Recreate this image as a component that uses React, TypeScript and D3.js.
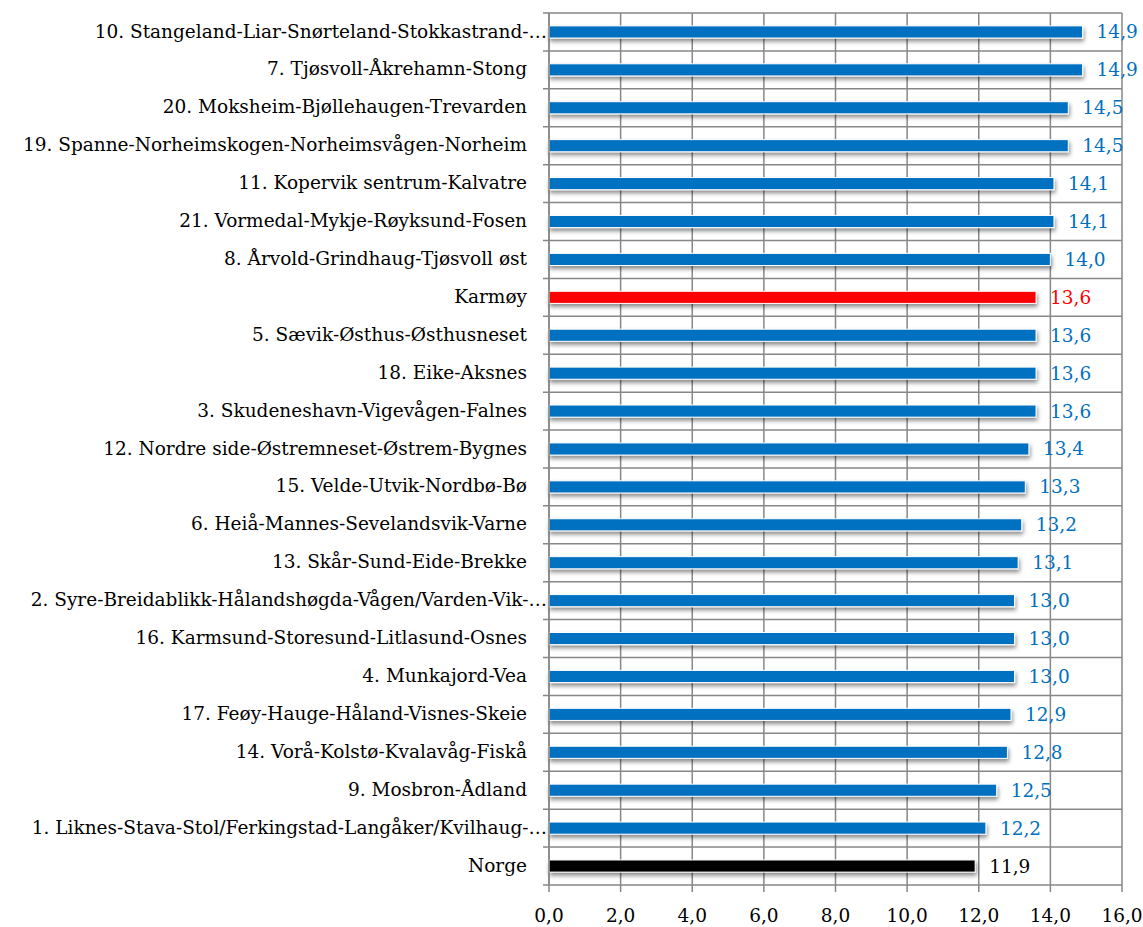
import React from "react";
import * as d3 from "d3";

const categories: string[] = [
  "10. Stangeland-Liar-Snørteland-Stokkastrand-…",
  "7. Tjøsvoll-Åkrehamn-Stong",
  "20. Moksheim-Bjøllehaugen-Trevarden",
  "19. Spanne-Norheimskogen-Norheimsvågen-Norheim",
  "11. Kopervik sentrum-Kalvatre",
  "21. Vormedal-Mykje-Røyksund-Fosen",
  "8. Årvold-Grindhaug-Tjøsvoll øst",
  "Karmøy",
  "5. Sævik-Østhus-Østhusneset",
  "18. Eike-Aksnes",
  "3. Skudeneshavn-Vigevågen-Falnes",
  "12. Nordre side-Østremneset-Østrem-Bygnes",
  "15. Velde-Utvik-Nordbø-Bø",
  "6. Heiå-Mannes-Sevelandsvik-Varne",
  "13. Skår-Sund-Eide-Brekke",
  "2. Syre-Breidablikk-Hålandshøgda-Vågen/Varden-Vik-…",
  "16. Karmsund-Storesund-Litlasund-Osnes",
  "4. Munkajord-Vea",
  "17. Feøy-Hauge-Håland-Visnes-Skeie",
  "14. Vorå-Kolstø-Kvalavåg-Fiskå",
  "9. Mosbron-Ådland",
  "1. Liknes-Stava-Stol/Ferkingstad-Langåker/Kvilhaug-…",
  "Norge",
];

const values: number[] = [
  14.9, 14.9, 14.5, 14.5, 14.1, 14.1, 14.0, 13.6, 13.6, 13.6, 13.6, 13.4, 13.3,
  13.2, 13.1, 13.0, 13.0, 13.0, 12.9, 12.8, 12.5, 12.2, 11.9,
];

const xTicks: number[] = [0, 2, 4, 6, 8, 10, 12, 14, 16];

const W = 1143;
const H = 927;
const left = 549;
const right = 1122;
const top = 13;
const bottom = 885;
const FONT = "'DejaVu Serif', 'Liberation Serif', serif";
const FS = 18.5;

function colorFor(name: string): string {
  if (name === "Karmøy") return "#FF0000";
  if (name === "Norge") return "#000000";
  return "#0070C0";
}

const fmt = (v: number) => v.toFixed(1).replace(".", ",");

export default function App() {
  const x = d3.scaleLinear().domain([0, 16]).range([left, right]);
  const y = d3
    .scaleBand<string>()
    .domain(categories)
    .range([top, bottom])
    .paddingInner(0.68)
    .paddingOuter(0.34);
  const bw = y.bandwidth();
  const boundaries = d3
    .range(categories.length + 1)
    .map((i) => top + i * ((bottom - top) / categories.length));

  return (
    <svg
      width={W}
      height={H}
      style={{ position: "absolute", left: 0, top: 0, background: "#fff" }}
    >
      <defs>
        <filter id="sh" x="-5%" y="-50%" width="110%" height="250%">
          <feDropShadow dx="1" dy="3" stdDeviation="2" floodColor="#000" floodOpacity="0.45" />
        </filter>
      </defs>
      {boundaries.map((b, i) => (
        <line key={"h" + i} x1={left - 6} x2={right} y1={b} y2={b} stroke="#878787" strokeWidth={1.5} />
      ))}
      {xTicks.map((t) => (
        <line key={"v" + t} x1={x(t)} x2={x(t)} y1={top} y2={bottom + 7} stroke="#878787" strokeWidth={1.5} />
      ))}
      {categories.map((c, i) => (
        <rect
          key={"b" + i}
          x={x(0)}
          y={y(c)!}
          width={x(values[i]) - x(0)}
          height={bw}
          fill={colorFor(c)}
          stroke="#ffffff"
          strokeWidth={1}
          filter="url(#sh)"
        />
      ))}
      <line x1={left} x2={left} y1={top} y2={bottom} stroke="#878787" strokeWidth={1.5} />
      {categories.map((c, i) => (
        <text
          key={"vl" + i}
          x={x(values[i]) + 14}
          y={y(c)! + bw / 2}
          dy="0.35em"
          fill={colorFor(c)}
          fontFamily={FONT}
          fontSize={FS}
        >
          {fmt(values[i])}
        </text>
      ))}
      {categories.map((c, i) => (
        <text
          key={"cl" + i}
          x={c.endsWith("…") ? 547 : 527}
          y={y(c)! + bw / 2}
          dy="0.3em"
          textAnchor="end"
          fill="#000"
          fontFamily={FONT}
          fontSize={FS}
        >
          {c}
        </text>
      ))}
      {xTicks.map((t) => (
        <text
          key={"xt" + t}
          x={x(t)}
          y={916}
          dy="0.35em"
          textAnchor="middle"
          fill="#000"
          fontFamily={FONT}
          fontSize={FS}
        >
          {fmt(t)}
        </text>
      ))}
    </svg>
  );
}
